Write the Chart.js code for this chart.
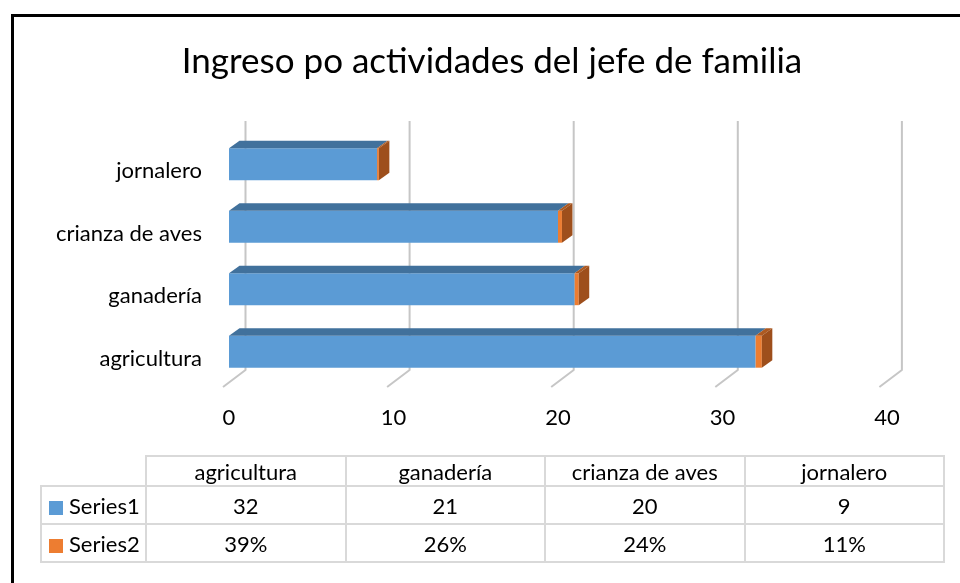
<!DOCTYPE html>
<html>
<head>
<meta charset="utf-8">
<script src="https://cdn.jsdelivr.net/npm/chart.js@4/dist/chart.umd.min.js"></script>
<style>
  html, body { margin: 0; padding: 0; background: #fff; }
  body { width: 960px; height: 583px; overflow: hidden; position: relative; font-family: Lato, "Open Sans", sans-serif; }
  #frame { position: absolute; left: 11px; top: 14px; width: 2000px; height: 2000px; border: 3px solid #000; box-sizing: border-box; }
  #c { position: absolute; left: 0; top: 0; }
  #tbl { position: absolute; left: 40px; top: 455px; border-collapse: collapse; table-layout: fixed; font-size: 22px; color: #000; }
  #tbl td { border: 2px solid #d9d9d9; text-align: center; padding: 0; white-space: nowrap; }
  #tbl td.rh { text-align: left; padding-left: 7px; }
  #tbl td.empty { border-top: none; border-left: none; }
  .sw { display: inline-block; width: 14px; height: 14px; margin-right: 6px; vertical-align: -1px; }
</style>
</head>
<body>
<div id="frame"></div>
<canvas id="c" width="960" height="583"></canvas>
<table id="tbl"></table>
<script>
const chartTitle = 'Ingreso po actividades del jefe de familia';
const categories = ['agricultura', 'ganadería', 'crianza de aves', 'jornalero'];
const seriesNames = ['Series1', 'Series2'];
const series1 = [32, 21, 20, 9];
const series2 = [0.39, 0.26, 0.24, 0.11];
const xTicks = [0, 10, 20, 30, 40];

const frontColors = ['#5b9bd5', '#ed7d31'];
const topColors = ['#41719c', '#ae5a21'];
const sideColors = ['#3e6c96', '#9e4f1c'];
const BDX = 10.5, BDY = -7.5;   // bar depth offset

const backWall = {
  id: 'backWall',
  beforeDatasetsDraw(chart) {
    const ctx = chart.ctx, x = chart.scales.x, a = chart.chartArea;
    ctx.save();
    ctx.strokeStyle = '#c6c6c6';
    ctx.lineWidth = 2;
    ctx.lineJoin = 'round';
    xTicks.forEach(v => {
      const xb = x.getPixelForValue(v) + 16.5 - v * 0.04;
      ctx.beginPath();
      ctx.moveTo(xb, a.top - 12);
      ctx.lineTo(xb, a.bottom - 13);
      ctx.lineTo(xb - 22.5, a.bottom + 4);
      ctx.stroke();
    });
    ctx.restore();
  }
};

const bars3d = {
  id: 'bars3d',
  afterDatasetsDraw(chart) {
    const ctx = chart.ctx;
    const n = chart.data.datasets.length;
    ctx.save();
    for (let d = 0; d < n; d++) {
      const meta = chart.getDatasetMeta(d);
      meta.data.forEach(el => {
        const p = el.getProps(['x', 'y', 'base', 'height'], true);
        const top = p.y - p.height / 2, bot = p.y + p.height / 2;
        const x0 = Math.min(p.base, p.x), x1 = Math.max(p.base, p.x);
        ctx.fillStyle = topColors[d];
        ctx.beginPath();
        ctx.moveTo(x0, top);
        ctx.lineTo(x1, top);
        ctx.lineTo(x1 + BDX, top + BDY);
        ctx.lineTo(x0 + BDX, top + BDY);
        ctx.closePath();
        ctx.fill();
        if (d === n - 1) {
          ctx.fillStyle = sideColors[d];
          ctx.beginPath();
          ctx.moveTo(x1, top);
          ctx.lineTo(x1 + BDX, top + BDY);
          ctx.lineTo(x1 + BDX, bot + BDY);
          ctx.lineTo(x1, bot);
          ctx.closePath();
          ctx.fill();
        }
      });
    }
    ctx.restore();
  }
};

const FONT = 'Lato';
new Chart(document.getElementById('c'), {
  type: 'bar',
  data: {
    labels: categories,
    datasets: [
      { label: seriesNames[0], data: series1, backgroundColor: frontColors[0], barPercentage: 0.51, categoryPercentage: 1 },
      { label: seriesNames[1], data: series2, backgroundColor: frontColors[1], barPercentage: 0.51, categoryPercentage: 1 }
    ]
  },
  options: {
    indexAxis: 'y',
    responsive: false,
    animation: false,
    layout: { padding: { top: 0, right: 0, bottom: 0, left: 24 } },
    plugins: {
      legend: { display: false },
      tooltip: { enabled: false },
      title: {
        display: true,
        text: chartTitle,
        color: '#000',
        font: { family: FONT, size: 35, weight: 'normal' },
        padding: { top: 41, bottom: 50 }
      }
    },
    scales: {
      x: {
        stacked: true,
        min: 0, max: 40,
        afterBuildTicks: s => { s.ticks = xTicks.map(v => ({ value: v })); },
        grid: { display: false },
        border: { display: false },
        ticks: { color: '#000', font: { family: FONT, size: 22 }, padding: 14, maxRotation: 0 },
        afterFit: s => { s.height = 200; }
      },
      y: {
        stacked: true,
        reverse: true,
        grid: { display: false },
        border: { display: false },
        ticks: { color: '#000', font: { family: FONT, size: 22 }, padding: 19, labelOffset: 7 },
        afterFit: s => { s.width = 205; }
      },
      yRight: {
        type: 'category',
        position: 'right',
        grid: { display: false },
        border: { display: false },
        ticks: { display: false },
        afterFit: s => { s.width = 73; }
      }
    }
  },
  plugins: [backWall, bars3d]
});

// data table
const tbl = document.getElementById('tbl');
const cg = document.createElement('colgroup');
[105, 199.5, 199.5, 199.5, 199.5].forEach(w => { const c = document.createElement('col'); c.style.width = w + 'px'; cg.appendChild(c); });
tbl.appendChild(cg);
const hr = tbl.insertRow();
hr.style.height = '30px';
const e = hr.insertCell(); e.className = 'empty';
categories.forEach(c => { hr.insertCell().textContent = c; });
const rows = [series1.map(v => String(v)), series2.map(v => Math.round(v * 100) + '%')];
rows.forEach((vals, i) => {
  const r = tbl.insertRow();
  r.style.height = '38px';
  const h = r.insertCell(); h.className = 'rh';
  const sw = document.createElement('span'); sw.className = 'sw'; sw.style.background = frontColors[i];
  h.appendChild(sw); h.appendChild(document.createTextNode(seriesNames[i]));
  vals.forEach(v => { r.insertCell().textContent = v; });
});
</script>
</body>
</html>
